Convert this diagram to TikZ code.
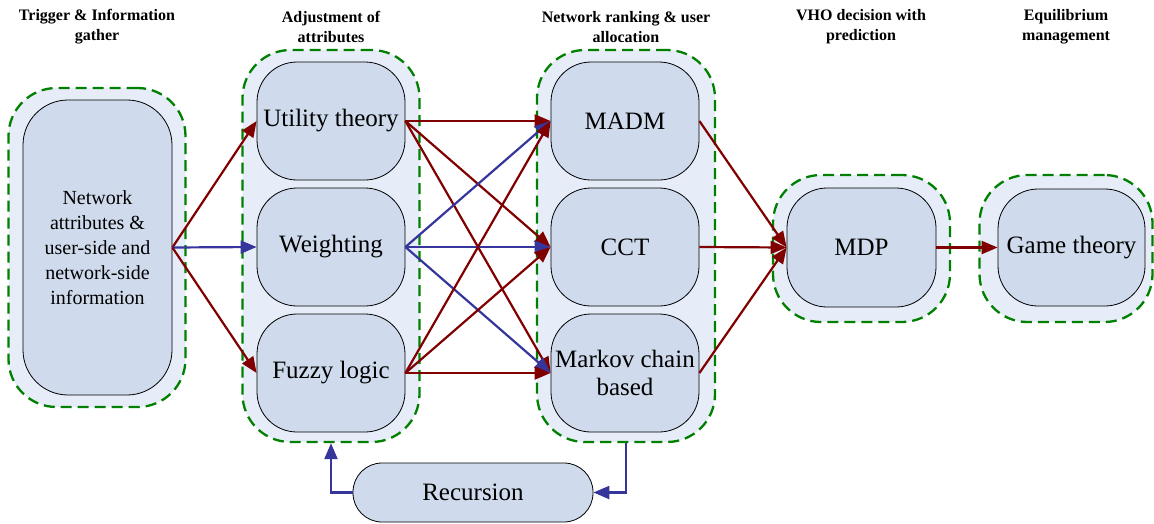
\documentclass[tikz,border=0pt]{standalone}
\usepackage{fontspec}
\setmainfont{Liberation Serif}
\newfontfamily\serifx{Liberation Serif}
\usetikzlibrary{arrows.meta}
\definecolor{outerfill}{HTML}{E6EDF8}
\definecolor{innerfill}{HTML}{CFDBEC}
\definecolor{grpgreen}{HTML}{008000}
\definecolor{arrred}{HTML}{800000}
\definecolor{arrblue}{HTML}{35359B}
\tikzset{
  grp/.style={draw=grpgreen, fill=outerfill, line width=2.3pt, dash pattern=on 11pt off 6pt, rounded corners=48pt, inner sep=0pt},
  inner/.style={draw=black, fill=innerfill, line width=0.8pt, rounded corners=40pt, inner sep=0pt, align=center, font=\serifx\fontsize{25}{28}\selectfont},
  ttl/.style={align=center, font=\serifx\bfseries\fontsize{16}{20}\selectfont},
  redarr/.style={draw=arrred, line width=2.2pt, -{Triangle[length=16pt,width=13pt]}},
  bluearr/.style={draw=arrblue, line width=2.2pt, -{Triangle[length=16pt,width=13pt]}},
}
\begin{document}
\begin{tikzpicture}[x=1pt,y=-1pt]
\useasboundingbox (0,0) rectangle (1154,523);
% titles
\node[ttl] (t1) at (97,27) {Trigger \& Information\\gather};
\node[ttl] (t2) at (331,27) {Adjustment of\\attributes};
\node[ttl] (t3) at (626,27) {Network ranking \& user\\allocation};
\node[ttl] (t4) at (861,27) {VHO decision with\\prediction};
\node[ttl] (t5) at (1066,27) {Equilibrium\\management};
% groups
\node[grp, minimum width=177pt, minimum height=319pt] (g1) at (97,247.5) {};
\node[grp, minimum width=177pt, minimum height=392pt] (g2) at (331,246) {};
\node[grp, minimum width=178pt, minimum height=392pt] (g3) at (626,246) {};
\node[grp, minimum width=177pt, minimum height=147pt] (g4) at (861.5,248.5) {};
\node[grp, minimum width=173pt, minimum height=147pt] (g5) at (1066,248.5) {};
% inner nodes
\node[inner, minimum width=149pt, minimum height=295pt, rounded corners=45pt, font=\serifx\fontsize{20}{25}\selectfont] (info) at (97.5,247.5) {Network\\attributes \&\\user-side and\\network-side\\information};
\node[inner, minimum width=148pt, minimum height=118pt] (util) at (331,121) {Utility theory};
\node[inner, minimum width=148pt, minimum height=118pt] (weight) at (331,247) {Weighting};
\node[inner, minimum width=148pt, minimum height=118pt] (fuzzy) at (331,373) {Fuzzy logic};
\node[inner, minimum width=148pt, minimum height=118pt] (madm) at (625,121) {MADM};
\node[inner, minimum width=148pt, minimum height=118pt] (cct) at (625,247) {CCT};
\node[inner, minimum width=148pt, minimum height=118pt] (markov) at (625,373) {Markov chain\\based};
\node[inner, minimum width=149pt, minimum height=119pt] (mdp) at (861.5,247.5) {MDP};
\node[inner, minimum width=147pt, minimum height=117pt] (game) at (1071.5,247.5) {Game theory};
\node[inner, minimum width=240pt, minimum height=59pt, rounded corners=29pt] (rec) at (473,492.5) {Recursion};
% arrows stage 1
\draw[redarr] (info.east) -- (util.west);
\draw[bluearr] (info.east) -- (weight.west);
\draw[redarr] (info.east) -- (fuzzy.west);
% stage 2
\draw[redarr] (util.east) -- (madm.west);
\draw[redarr] (util.east) -- (cct.west);
\draw[redarr] (util.east) -- (markov.west);
\draw[bluearr] (weight.east) -- (madm.west);
\draw[bluearr] (weight.east) -- (cct.west);
\draw[bluearr] (weight.east) -- (markov.west);
\draw[redarr] (fuzzy.east) -- (madm.west);
\draw[redarr] (fuzzy.east) -- (cct.west);
\draw[redarr] (fuzzy.east) -- (markov.west);
% stage 3
\draw[redarr] (madm.east) -- (mdp.west);
\draw[redarr] (cct.east) -- (mdp.west);
\draw[redarr] (markov.east) -- (mdp.west);
\draw[redarr] (mdp.east) -- (game.west);
% recursion
\draw[bluearr] (g3.south) |- (rec.east);
\draw[bluearr] (rec.west) -| (g2.south);
\end{tikzpicture}
\end{document}
